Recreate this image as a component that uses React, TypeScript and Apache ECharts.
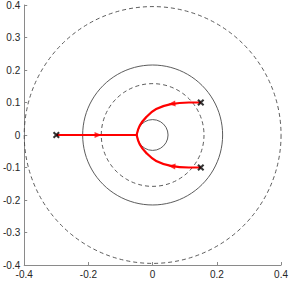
import React, { useEffect, useRef } from "react";
import * as echarts from "echarts";

const xTicks = [-0.4, -0.2, 0, 0.2, 0.4];
const yTicks = [-0.4, -0.3, -0.2, -0.1, 0, 0.1, 0.2, 0.3, 0.4];

// reference circles: [radius, dashed(1)/solid(0)]
const circles: [number, number][] = [
  [0.4, 1],
  [0.218, 0],
  [0.16, 1],
  [0.048, 0],
];

const poles: [number, number][] = [
  [-0.3, 0],
  [0.15, 0.1],
  [0.15, -0.1],
];

const realBranch: [number, number][] = [
  [-0.3, 0],
  [-0.05, 0],
];

const upperBranch: [number, number][] = [
  [0.15, 0.1],
  [0.113, 0.1],
  [0.057, 0.095],
  [0.011, 0.08],
  [-0.02, 0.055],
  [-0.04, 0.029],
  [-0.05, 0],
];

const lowerBranch: [number, number][] = [
  [0.15, -0.1],
  [0.113, -0.1],
  [0.057, -0.095],
  [0.011, -0.08],
  [-0.02, -0.055],
  [-0.04, -0.029],
  [-0.05, 0],
];

// arrow positions with rotation (deg)
const arrows: { value: [number, number]; rot: number }[] = [
  { value: [-0.17, 0], rot: -90 },
  { value: [0.06, 0.096], rot: 95 },
  { value: [0.06, -0.096], rot: 85 },
];

const crossPath =
  "path://M2,0 L5,3 L8,0 L10,2 L7,5 L10,8 L8,10 L5,7 L2,10 L0,8 L3,5 L0,2 Z";

const fmt = (v: number) => {
  const r = Math.round(v * 10) / 10;
  return r === 0 ? "0" : String(r);
};

export default function App() {
  const ref = useRef<HTMLDivElement>(null);
  useEffect(() => {
    document.body.style.margin = "0";
    const chart = echarts.init(ref.current!, null, { renderer: "svg" });
    const axisCommon = {
      axisLine: { show: true, onZero: false, lineStyle: { color: "#8a8a8a", width: 1 } },
      axisTick: { show: true, inside: true, length: 3, lineStyle: { color: "#8a8a8a" } },
      splitLine: { show: false },
      axisLabel: {
        color: "#262626",
        fontSize: 10,
        fontFamily: "Liberation Sans, Arial, sans-serif",
        formatter: fmt,
      },
    };
    chart.setOption({
      animation: false,
      grid: { left: 23, right: 8, top: 4, bottom: 16 },
      xAxis: {
        type: "value",
        min: xTicks[0],
        max: xTicks[xTicks.length - 1],
        interval: 0.2,
        ...axisCommon,
        axisLabel: { ...axisCommon.axisLabel, margin: 4 },
      },
      yAxis: {
        type: "value",
        min: yTicks[0],
        max: yTicks[yTicks.length - 1],
        interval: 0.1,
        ...axisCommon,
        axisLabel: { ...axisCommon.axisLabel, margin: 4 },
      },
      series: [
        {
          type: "custom",
          data: circles,
          silent: true,
          z: 1,
          renderItem: (params: any, api: any) => {
            const r = api.value(0);
            const dashed = api.value(1) === 1;
            const c = api.coord([0, 0]);
            const s = api.size([r, r]);
            return {
              type: "circle",
              shape: { cx: c[0], cy: c[1], r: s[0] },
              style: {
                fill: "none",
                stroke: "#4a4a4a",
                lineWidth: 0.9,
                lineDash: dashed ? [4, 3] : null,
              },
            };
          },
        },
        ...[realBranch, upperBranch, lowerBranch].map((d) => ({
          type: "line",
          data: d,
          smooth: d.length > 2 ? 0.4 : false,
          showSymbol: false,
          symbol: "none",
          lineStyle: { color: "#ff0000", width: 2.2 },
          z: 3,
        })),
        {
          type: "scatter",
          data: arrows.map((a) => ({ value: a.value, symbolRotate: a.rot })),
          symbol: "triangle",
          symbolSize: [6, 7],
          itemStyle: { color: "#ff0000" },
          z: 4,
        },
        {
          type: "scatter",
          data: poles,
          symbol: crossPath,
          symbolSize: 7,
          itemStyle: { color: "#000" },
          z: 5,
        },
      ],
    });
    return () => chart.dispose();
  }, []);
  return <div ref={ref} style={{ width: 291, height: 281 }} />;
}
